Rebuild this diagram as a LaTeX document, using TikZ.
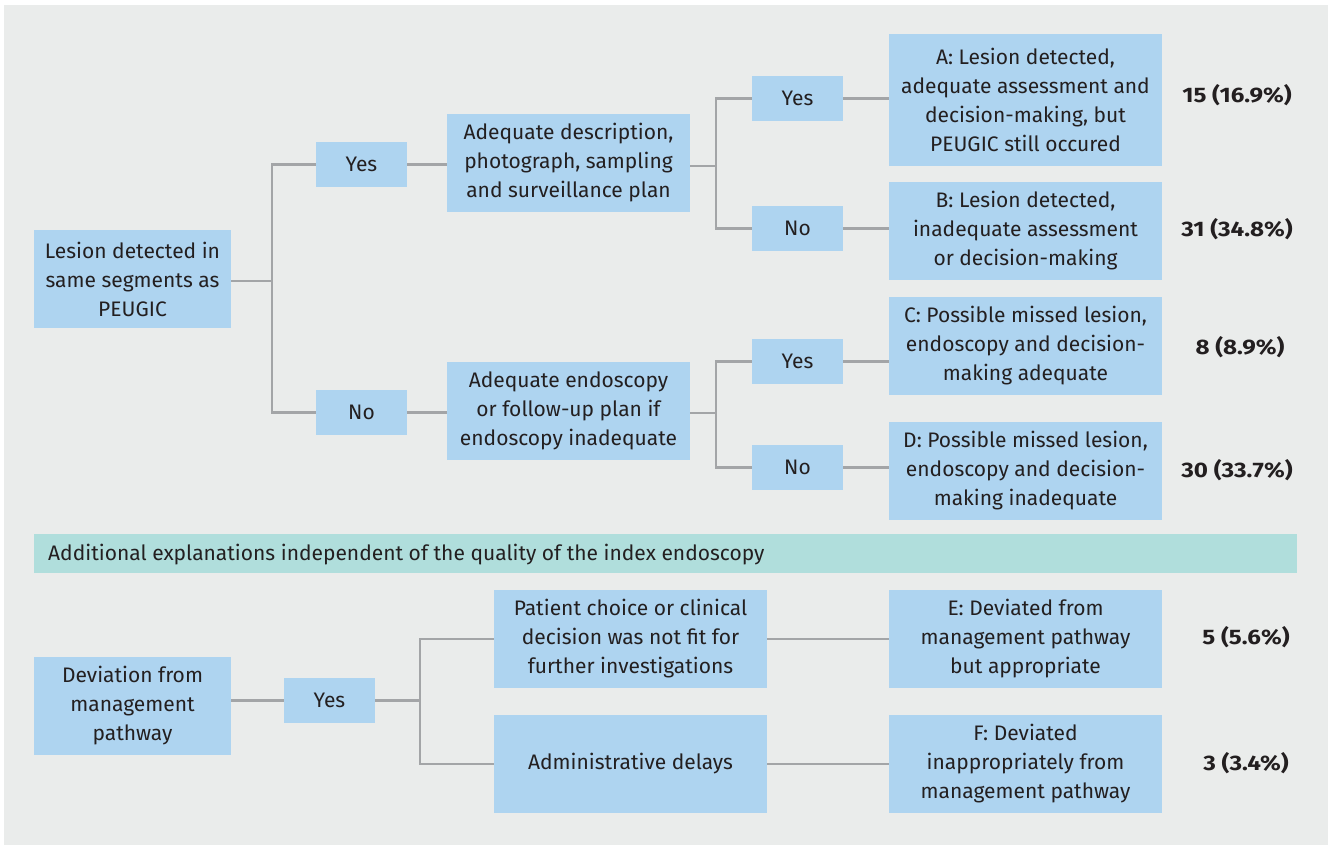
\documentclass[tikz,border=0pt]{standalone}
\usepackage{fontspec}
\setmainfont{Fira Sans}
\definecolor{boxblue}{HTML}{AED4F0}
\definecolor{bgpanel}{HTML}{EAECEB}
\definecolor{tealbar}{HTML}{B0DEDC}
\definecolor{linegray}{HTML}{A3A5A7}
\definecolor{txt}{HTML}{231F20}
\begin{document}
\begin{tikzpicture}[x=1pt,y=-1pt,
  every node/.style={font=\fontsize{21}{29}\selectfont, text=txt},
  box/.style={fill=boxblue, inner sep=0pt, align=center},
  wide/.style={box, minimum width=273pt, minimum height=98pt},
  mid/.style={box, minimum width=243pt, minimum height=98pt},
  lft/.style={box, minimum width=197pt, minimum height=98pt},
  small/.style={box, minimum width=91pt, minimum height=45pt},
  num/.style={font=\fontsize{21}{29}\selectfont\bfseries\addfontfeatures{FakeStretch=1.15}},
  conn/.style={draw=linegray, line width=2.8pt}]
\useasboundingbox (0,0) rectangle (1330,845);
\fill[white] (0,0) rectangle (1330,845);
\fill[bgpanel] (4,5) rectangle (1328,845);

% upper tree
\node[lft] (L) at (132.5,279) {Lesion detected in\\same segments as\\PEUGIC};
\node[small] (Y1) at (361.5,164.5) {Yes};
\node[small] (N1) at (361.5,412.5) {No};
\node[mid] (AD) at (568.5,163) {Adequate description,\\photograph, sampling\\and surveillance plan};
\node[mid] (AE) at (568.5,411) {Adequate endoscopy\\or follow-up plan if\\endoscopy inadequate};
\node[small] (Y2) at (797.5,98.5) {Yes};
\node[small] (N2) at (797.5,228.5) {No};
\node[small] (Y3) at (797.5,361.5) {Yes};
\node[small] (N3) at (797.5,467.5) {No};
\node[wide, minimum height=132pt] (A) at (1025.5,100) {A: Lesion detected,\\adequate assessment and\\decision-making, but\\PEUGIC still occured};
\node[wide] (B) at (1025.5,231) {B: Lesion detected,\\inadequate assessment\\or decision-making};
\node[wide] (C) at (1025.5,346) {C: Possible missed lesion,\\endoscopy and decision-\\making adequate};
\node[wide] (D) at (1025.5,471) {D: Possible missed lesion,\\endoscopy and decision-\\making inadequate};
\node[num] (nA) at (1237,95) {15 (16.9\%)};
\node[num] (nB) at (1237,229) {31 (34.8\%)};
\node[num] (nC) at (1240,347) {8 (8.9\%)};
\node[num] (nD) at (1237,470) {30 (33.7\%)};

\coordinate (j1) at (272,281);
\coordinate (j2) at (716,166);
\coordinate (j3) at (716,413);
\draw[conn] (L.east |- j1) -- (j1);
\draw[conn] (Y1.west) -| (j1) |- (N1.west);
\draw[conn] (Y1.east) -- (Y1.east -| AD.west);
\draw[conn] (N1.east) -- (N1.east -| AE.west);
\draw[conn] (AD.east |- j2) -- (j2);
\draw[conn] (Y2.west) -| (j2) |- (N2.west);
\draw[conn] (AE.east |- j3) -- (j3);
\draw[conn] (Y3.west) -| (j3) |- (N3.west);
\draw[conn] (Y2.east) -- (Y2.east -| A.west);
\draw[conn] (N2.east) -- (N2.east -| B.west);
\draw[conn] (Y3.east) -- (Y3.east -| C.west);
\draw[conn] (N3.east) -- (N3.east -| D.west);

% separator bar
\fill[tealbar] (34,534) rectangle (1297,573);
\node[anchor=west, inner sep=0pt] (bar) at (48,555) {Additional explanations independent of the quality of the index endoscopy};

% lower tree
\node[lft] (Dev) at (132.5,706) {Deviation from\\management\\pathway};
\node[small] (Y4) at (329.5,700.5) {Yes};
\node[wide] (P) at (630.5,639) {Patient choice or clinical\\decision was not fit for\\further investigations};
\node[wide] (Adm) at (630.5,764) {Administrative delays};
\node[wide] (E) at (1025.5,639) {E: Deviated from\\management pathway\\but appropriate};
\node[wide] (F) at (1025.5,764) {F: Deviated\\inappropriately from\\management pathway};
\node[num] (nE) at (1246,637) {5 (5.6\%)};
\node[num] (nF) at (1246,763) {3 (3.4\%)};

\coordinate (j4) at (420,700.5);
\draw[conn] (Dev.east |- Y4) -- (Y4.west);
\draw[conn] (Y4.east) -- (j4);
\draw[conn] (P.west) -| (j4) |- (Adm.west);
\draw[conn] (P.east) -- (E.west);
\draw[conn] (Adm.east) -- (F.west);
\end{tikzpicture}
\end{document}
